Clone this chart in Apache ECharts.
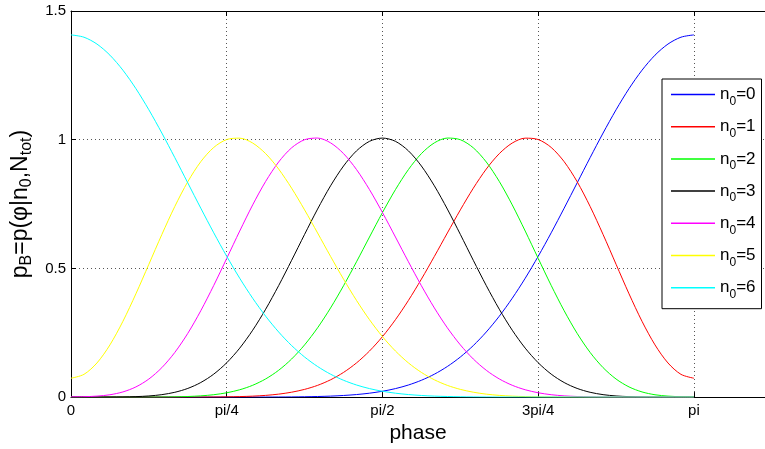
<!DOCTYPE html>
<html>
<head>
<meta charset="utf-8">
<script src="https://cdn.jsdelivr.net/npm/echarts@6/dist/echarts.min.js"></script>
<style>
html,body{margin:0;padding:0;background:#fff;}
#chart{width:765px;height:449px;}
</style>
</head>
<body>
<div id="chart"></div>
<script>
// phase samples (radians), 0 .. pi in steps of pi/48
const phase = [0, 0.06545, 0.1309, 0.19635, 0.2618, 0.32725, 0.3927, 0.45815, 0.5236, 0.58905, 0.6545, 0.71995, 0.7854, 0.85085, 0.9163, 0.98175, 1.0472, 1.11265, 1.1781, 1.24355, 1.3090, 1.37445, 1.4399, 1.50535, 1.5708, 1.63625, 1.7017, 1.76715, 1.8326, 1.89805, 1.9635, 2.02895, 2.0944, 2.15985, 2.2253, 2.29075, 2.3562, 2.42165, 2.4871, 2.55255, 2.6180, 2.68345, 2.7489, 2.81435, 2.8798, 2.94525, 3.0107, 3.07615, 3.1416];

const p_n0_0 = [0, 0, 0, 0, 0, 0, 0, 0, 0, 0, 0, 0, 0, 0, 0.0001, 0.0002, 0.0004, 0.0007, 0.0013, 0.0023, 0.0038, 0.0063, 0.0099, 0.0152, 0.0227, 0.0330, 0.0470, 0.0654, 0.0890, 0.1189, 0.1557, 0.2002, 0.2530, 0.3142, 0.3840, 0.4618, 0.5470, 0.6382, 0.7340, 0.8321, 0.9303, 1.0259, 1.1162, 1.1985, 1.2700, 1.3284, 1.3716, 1.3982, 1.4072];
const p_n0_1 = [0, 0, 0, 0, 0, 0, 0, 0, 0, 0.0001, 0.0002, 0.0004, 0.0010, 0.0020, 0.0037, 0.0067, 0.0115, 0.0190, 0.0300, 0.0456, 0.0672, 0.0959, 0.1328, 0.1790, 0.2349, 0.3007, 0.3756, 0.4583, 0.5467, 0.6376, 0.7273, 0.8116, 0.8860, 0.9458, 0.9870, 1.0060, 1.0007, 0.9700, 0.9146, 0.8369, 0.7407, 0.6316, 0.5160, 0.4011, 0.2944, 0.2028, 0.1326, 0.0884, 0.0733];
const p_n0_2 = [0, 0, 0, 0, 0, 0, 0.0001, 0.0004, 0.0010, 0.0023, 0.0048, 0.0093, 0.0168, 0.0285, 0.0459, 0.0706, 0.1042, 0.1480, 0.2029, 0.2692, 0.3463, 0.4326, 0.5257, 0.6219, 0.7170, 0.8061, 0.8840, 0.9460, 0.9878, 1.0064, 1.0000, 0.9685, 0.9134, 0.8380, 0.7468, 0.6451, 0.5389, 0.4339, 0.3355, 0.2477, 0.1736, 0.1145, 0.0702, 0.0395, 0.0201, 0.0091, 0.0038, 0.0016, 0.0011];
const p_n0_3 = [0, 0, 0, 0.0002, 0.0006, 0.0018, 0.0044, 0.0095, 0.0187, 0.0337, 0.0566, 0.0893, 0.1335, 0.1902, 0.2599, 0.3415, 0.4331, 0.5314, 0.6322, 0.7305, 0.8208, 0.8978, 0.9567, 0.9937, 1.0063, 0.9937, 0.9567, 0.8978, 0.8208, 0.7305, 0.6322, 0.5314, 0.4331, 0.3415, 0.2599, 0.1902, 0.1335, 0.0893, 0.0566, 0.0337, 0.0187, 0.0095, 0.0044, 0.0018, 0.0006, 0.0002, 0, 0, 0];
const p_n0_4 = [0.0011, 0.0016, 0.0038, 0.0091, 0.0201, 0.0395, 0.0702, 0.1145, 0.1736, 0.2477, 0.3355, 0.4339, 0.5389, 0.6451, 0.7468, 0.8380, 0.9134, 0.9685, 1.0000, 1.0064, 0.9878, 0.9460, 0.8840, 0.8061, 0.7170, 0.6219, 0.5257, 0.4326, 0.3463, 0.2692, 0.2029, 0.1480, 0.1042, 0.0706, 0.0459, 0.0285, 0.0168, 0.0093, 0.0048, 0.0023, 0.0010, 0.0004, 0.0001, 0, 0, 0, 0, 0, 0];
const p_n0_5 = [0.0733, 0.0884, 0.1326, 0.2028, 0.2944, 0.4011, 0.5160, 0.6316, 0.7407, 0.8369, 0.9146, 0.9700, 1.0007, 1.0060, 0.9870, 0.9458, 0.8860, 0.8116, 0.7273, 0.6376, 0.5467, 0.4583, 0.3756, 0.3007, 0.2349, 0.1790, 0.1328, 0.0959, 0.0672, 0.0456, 0.0300, 0.0190, 0.0115, 0.0067, 0.0037, 0.0020, 0.0010, 0.0004, 0.0002, 0.0001, 0, 0, 0, 0, 0, 0, 0, 0, 0];
const p_n0_6 = [1.4072, 1.3982, 1.3716, 1.3284, 1.2700, 1.1985, 1.1162, 1.0259, 0.9303, 0.8321, 0.7340, 0.6382, 0.5470, 0.4618, 0.3840, 0.3142, 0.2530, 0.2002, 0.1557, 0.1189, 0.0890, 0.0654, 0.0470, 0.0330, 0.0227, 0.0152, 0.0099, 0.0063, 0.0038, 0.0023, 0.0013, 0.0007, 0.0004, 0.0002, 0.0001, 0, 0, 0, 0, 0, 0, 0, 0, 0, 0, 0, 0, 0, 0];

const seriesNames = ['n0=0', 'n0=1', 'n0=2', 'n0=3', 'n0=4', 'n0=5', 'n0=6'];
const seriesValues = [p_n0_0, p_n0_1, p_n0_2, p_n0_3, p_n0_4, p_n0_5, p_n0_6];
const seriesColors = ['#0000ff', '#ff0000', '#00ff00', '#000000', '#ff00ff', '#ffff00', '#00ffff'];

const xTickLabels = ['0', 'pi/4', 'pi/2', '3pi/4', 'pi'];
const yTickLabels = ['0', '0.5', '1', '1.5'];

const FONT = "'Liberation Sans', Arial, Helvetica, sans-serif";
const QUARTER = Math.PI / 4;

function xLabel(v) {
  const i = Math.round(v / QUARTER);
  if (Math.abs(v - i * QUARTER) < 1e-6 && i >= 0 && i < xTickLabels.length) return xTickLabels[i];
  return '';
}
function yLabel(v) {
  const i = Math.round(v / 0.5);
  return yTickLabels[i] !== undefined ? yTickLabels[i] : '';
}

const chart = echarts.init(document.getElementById('chart'), null, {renderer: 'canvas'});

const gridLine = {show: true, lineStyle: {color: '#555', width: 1, type: [1, 3]}};

const option = {
  animation: false,
  backgroundColor: '#ffffff',
  textStyle: {fontFamily: FONT},
  grid: {left: 71, top: 11, right: -10, bottom: 51, containLabel: false},
  xAxis: [
    {
      type: 'value', min: 0, max: 3.5, interval: QUARTER,
      position: 'bottom',
      axisLine: {show: true, onZero: false, lineStyle: {color: '#000', width: 1}},
      axisTick: {show: true, inside: true, length: 5, lineStyle: {color: '#000'}},
      axisLabel: {show: true, margin: 6, color: '#000', fontSize: 15, fontFamily: FONT, formatter: xLabel, showMaxLabel: false},
      splitLine: gridLine,
      name: 'phase', nameLocation: 'middle', nameGap: 24,
      nameTextStyle: {fontSize: 21, color: '#000', fontFamily: FONT}
    },
    {
      type: 'value', min: 0, max: 3.5, interval: QUARTER,
      position: 'top',
      axisLine: {show: true, onZero: false, lineStyle: {color: '#000', width: 1}},
      axisTick: {show: true, inside: true, length: 5, lineStyle: {color: '#000'}},
      axisLabel: {show: false},
      splitLine: {show: false}
    }
  ],
  yAxis: {
    type: 'value', min: 0, max: 1.5, interval: 0.5,
    axisLine: {show: true, onZero: false, lineStyle: {color: '#000', width: 1}},
    axisTick: {show: true, inside: true, length: 5, lineStyle: {color: '#000'}},
    axisLabel: {show: true, margin: 5, color: '#000', fontSize: 15, fontFamily: FONT, formatter: yLabel},
    splitLine: gridLine,
    name: '{n|p}{s|B}{n|=p(φ|n}{s|0}{n|,N}{s|tot}{n|)}',
    nameLocation: 'middle', nameGap: 33,
    nameTextStyle: {
      color: '#000', fontFamily: FONT, fontSize: 23,
      rich: {
        n: {fontSize: 23, lineHeight: 28, verticalAlign: 'middle', color: '#000', fontFamily: FONT},
        s: {fontSize: 16, lineHeight: 14, verticalAlign: 'bottom', color: '#000', fontFamily: FONT}
      }
    }
  },
  legend: {
    orient: 'vertical',
    left: 662, top: 79,
    padding: [7, 6, 8, 9],
    itemGap: 10.7,
    itemWidth: 44,
    itemHeight: 1.5,
    icon: 'rect',
    backgroundColor: '#ffffff',
    borderColor: '#000',
    borderWidth: 1,
    borderRadius: 0,
    data: seriesNames,
    formatter: function (name) {
      const m = name.match(/^n0=(\d+)$/);
      return m ? '{n|n}{s|0}{n|=' + m[1] + '}' : name;
    },
    textStyle: {
      color: '#000', fontFamily: FONT, fontSize: 17,
      rich: {
        n: {fontSize: 17, lineHeight: 26, verticalAlign: 'middle', color: '#000', fontFamily: FONT},
        s: {fontSize: 12, lineHeight: 12, verticalAlign: 'bottom', color: '#000', fontFamily: FONT}
      }
    }
  },
  series: seriesNames.map(function (name, i) {
    return {
      name: name,
      type: 'line',
      xAxisIndex: 0,
      smooth: 0.3,
      symbol: 'none',
      showSymbol: false,
      color: seriesColors[i],
      lineStyle: {color: seriesColors[i], width: 1},
      data: phase.map(function (x, k) { return [x, seriesValues[i][k]]; })
    };
  })
};

chart.setOption(option);
</script>
</body>
</html>
